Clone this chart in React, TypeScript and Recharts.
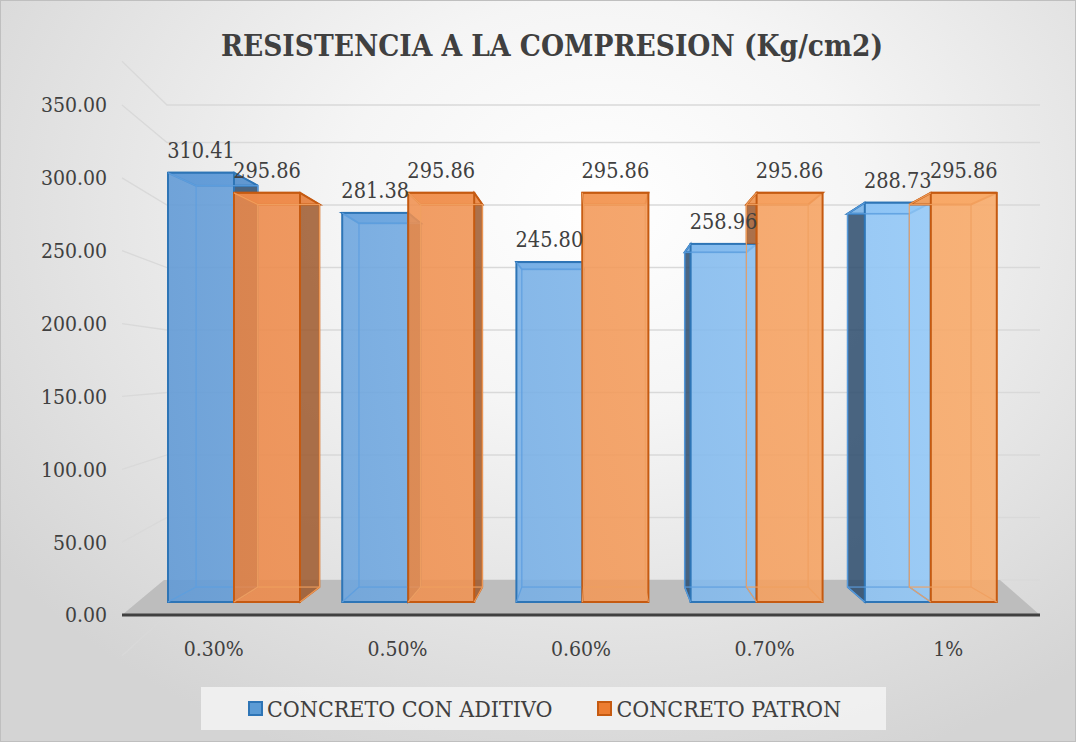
import React from 'react';
import { BarChart, Bar, XAxis, YAxis, CartesianGrid, LabelList, ReferenceArea } from 'recharts';

const categories = ['0.30%', '0.50%', '0.60%', '0.70%', '1%'];
const conAditivo = [310.41, 281.38, 245.8, 258.96, 288.73];
const patron = [295.86, 295.86, 295.86, 295.86, 295.86];
const seriesNames = ['CONCRETO CON ADITIVO', 'CONCRETO PATRON'];
const yTicks = [0, 50, 100, 150, 200, 250, 300, 350];

const data = categories.map((cat, i) => ({ cat, aditivo: conAditivo[i], patron: patron[i] }));

// Times is not available here, DejaVu Serif Condensed is the closest serif we have
const FONT = "'DejaVu Serif Condensed', 'DejaVu Serif', serif";
const TEXT = '#404040';

// fake perspective for the 3D boxes (vanishing point + depth factor)
const VX = 600;
const VY = 372;
const DEPTH = 0.935;
const back = (px: number, py: number) => [VX + (px - VX) * DEPTH, VY + (py - VY) * DEPTH];

// the wall/floor sit further back than the label scale
const PLOT_BOTTOM = 615;
const FLOOR_BACK = 580;
const WALL_RATIO = 408 / 350;

const COLORS: any = {
  aditivo: { front: 'url(#gBlue)', dark: '#2c4b6c', stroke: '#2e75b6', edge: '#5d9fe0' },
  patron: { front: 'url(#gOrange)', dark: '#9e582b', stroke: '#c55a11', edge: '#f0a060' },
};

const Box3D = (props: any) => {
  const { x, y, width: w, height: h, index, payload, series } = props;
  if (w == null || h == null || isNaN(y)) return null;
  const c = COLORS[series];
  const [bx1, by1] = back(x, y);
  const [bx2, by2] = back(x + w, y + h);
  const leftFace = x + w / 2 > VX;
  const sx = leftFace ? x : x + w;
  const sbx = leftFace ? bx1 : bx2;
  const side = `${sx},${y} ${sbx},${by1} ${sbx},${by2} ${sx},${y + h}`;
  const top = `${x},${y} ${x + w},${y} ${bx2},${by1} ${bx1},${by1}`;

  // orange left face hides behind the blue box, only the part above it shows
  let clipId: string | undefined;
  let clipH = 0;
  if (series === 'patron' && leftFace) {
    clipId = `clipSide${index}`;
    clipH = y + h - payload.aditivo * (h / payload.patron);
  }

  return (
    <g>
      {clipId && (
        <defs>
          <clipPath id={clipId}>
            <rect x={0} y={0} width={2000} height={clipH} />
          </clipPath>
        </defs>
      )}
      <polygon
        points={side}
        fill={c.dark}
        fillOpacity={0.85}
        stroke={c.stroke}
        strokeWidth={1.5}
        clipPath={clipId ? `url(#${clipId})` : undefined}
      />
      <polygon points={top} fill={c.front} fillOpacity={0.9} stroke={c.stroke} strokeWidth={2} />
      <rect x={x} y={y} width={w} height={h} fill={c.front} fillOpacity={0.88} stroke={c.stroke} strokeWidth={2} />
      <g stroke={c.edge} strokeWidth={1.2} fill="none" opacity={0.9}>
        <rect x={bx1} y={by1} width={bx2 - bx1} height={by2 - by1} />
        <line x1={x} y1={y} x2={bx1} y2={by1} />
        <line x1={x} y1={y + h} x2={bx1} y2={by2} />
        <line x1={x + w} y1={y + h} x2={bx2} y2={by2} />
      </g>
    </g>
  );
};

const Floor = (props: any) => {
  const { x, y, width, height } = props;
  const pts = `${x},${y + height} ${x + width},${y + height} ${x + width - 40},${y} ${x + 42},${y}`;
  return <polygon points={pts} fill="#bdbdbd" />;
};

const GridLine = (p: any) => {
  const { x1, x2, y1 } = p;
  const yFront = PLOT_BOTTOM - (FLOOR_BACK - y1) * WALL_RATIO;
  return (
    <path
      key={`g${y1}`}
      d={`M${x1},${yFront}L${x1 + 45},${y1}L${x2},${y1}`}
      stroke="#d9d9d9"
      strokeWidth={1.3}
      fill="none"
    />
  );
};

const legendItems = [
  { name: seriesNames[0], fill: '#5b9bd5', stroke: '#2e75b6' },
  { name: seriesNames[1], fill: '#ed7d31', stroke: '#c55a11' },
];

const tickStyle = { fill: TEXT, fontSize: 21, fontFamily: FONT };

export default function App() {
  return (
    <div
      style={{
        position: 'absolute',
        left: 0,
        top: 0,
        width: 1076,
        height: 742,
        background:
          'radial-gradient(ellipse 70% 80% at 56% 28%, #ffffff 0%, #f5f5f5 35%, #d4d4d4 100%)',
        fontFamily: FONT,
      }}
    >
      <div
        style={{
          position: 'absolute',
          top: 28,
          left: 14,
          width: 1076,
          textAlign: 'center',
          fontSize: 29.5,
          fontWeight: 'bold',
          color: TEXT,
        }}
      >
        RESISTENCIA A LA COMPRESION (Kg/cm2)
      </div>

      <div style={{ position: 'absolute', left: 0, top: 0 }}>
        <BarChart
          width={1076}
          height={742}
          data={data}
          margin={{ top: 105, right: 36, bottom: 87, left: 0 }}
          barGap={0}
        >
          <defs>
            <linearGradient id="gBlue" x1={150} y1={0} x2={1000} y2={0} gradientUnits="userSpaceOnUse">
              <stop offset="0%" stopColor="#5e98d5" />
              <stop offset="100%" stopColor="#96ccfb" />
            </linearGradient>
            <linearGradient id="gOrange" x1={150} y1={0} x2={1000} y2={0} gradientUnits="userSpaceOnUse">
              <stop offset="0%" stopColor="#ec8545" />
              <stop offset="100%" stopColor="#f9aa68" />
            </linearGradient>
          </defs>
          <XAxis
            xAxisId="lab"
            dataKey="cat"
            height={40}
            axisLine={{ stroke: '#404040', strokeWidth: 3 }}
            tickLine={false}
            tickMargin={20}
            tick={tickStyle}
          />
          <XAxis xAxisId="bars" dataKey="cat" hide height={0} padding={{ left: 25, right: 22 }} />
          <YAxis
            yAxisId="lab"
            type="number"
            width={122}
            domain={[0, 350]}
            ticks={yTicks}
            allowDataOverflow
            axisLine={false}
            tickLine={false}
            tickMargin={9}
            tickFormatter={(v: number) => v.toFixed(2)}
            tick={tickStyle}
          />
          <YAxis yAxisId="bars" hide width={0} domain={[-9.4, 359.4]} allowDataOverflow />
          <YAxis yAxisId="wall" hide width={0} domain={[-28, 380]} ticks={yTicks} allowDataOverflow />
          <CartesianGrid xAxisId="lab" yAxisId="wall" vertical={false} horizontal={GridLine} />
          <ReferenceArea xAxisId="lab" yAxisId="wall" y1={-28} y2={0} shape={Floor} ifOverflow="visible" />
          <Bar
            dataKey="aditivo"
            name={seriesNames[0]}
            xAxisId="bars"
            yAxisId="bars"
            barSize={66}
            isAnimationActive={false}
            shape={(p: any) => <Box3D {...p} series="aditivo" />}
          >
            <LabelList
              dataKey="aditivo"
              position="top"
              offset={15}
              formatter={(v: any) => Number(v).toFixed(2)}
              fill={TEXT}
              fontSize={21.5}
              style={{ fontFamily: FONT }}
            />
          </Bar>
          <Bar
            dataKey="patron"
            name={seriesNames[1]}
            xAxisId="bars"
            yAxisId="bars"
            barSize={66}
            isAnimationActive={false}
            shape={(p: any) => <Box3D {...p} series="patron" />}
          >
            <LabelList
              dataKey="patron"
              position="top"
              offset={15}
              formatter={(v: any) => Number(v).toFixed(2)}
              fill={TEXT}
              fontSize={21.5}
              style={{ fontFamily: FONT }}
            />
          </Bar>
        </BarChart>
      </div>

      <div
        style={{
          position: 'absolute',
          left: 201,
          top: 687,
          width: 685,
          height: 43,
          background: 'rgba(242,242,242,0.9)',
          display: 'flex',
          alignItems: 'center',
          paddingLeft: 47,
          boxSizing: 'border-box',
        }}
      >
        {legendItems.map((it, i) => (
          <div key={i} style={{ display: 'flex', alignItems: 'center', marginRight: i === 0 ? 45 : 0 }}>
            <div
              style={{
                width: 11,
                height: 11,
                background: it.fill,
                border: `2px solid ${it.stroke}`,
                marginRight: 4,
              }}
            />
            <span style={{ fontSize: 23, color: TEXT }}>{it.name}</span>
          </div>
        ))}
      </div>

      <div
        style={{
          position: 'absolute',
          left: 0,
          top: 0,
          width: 1074,
          height: 740,
          border: '1px solid #bfbfbf',
          pointerEvents: 'none',
        }}
      />
    </div>
  );
}
